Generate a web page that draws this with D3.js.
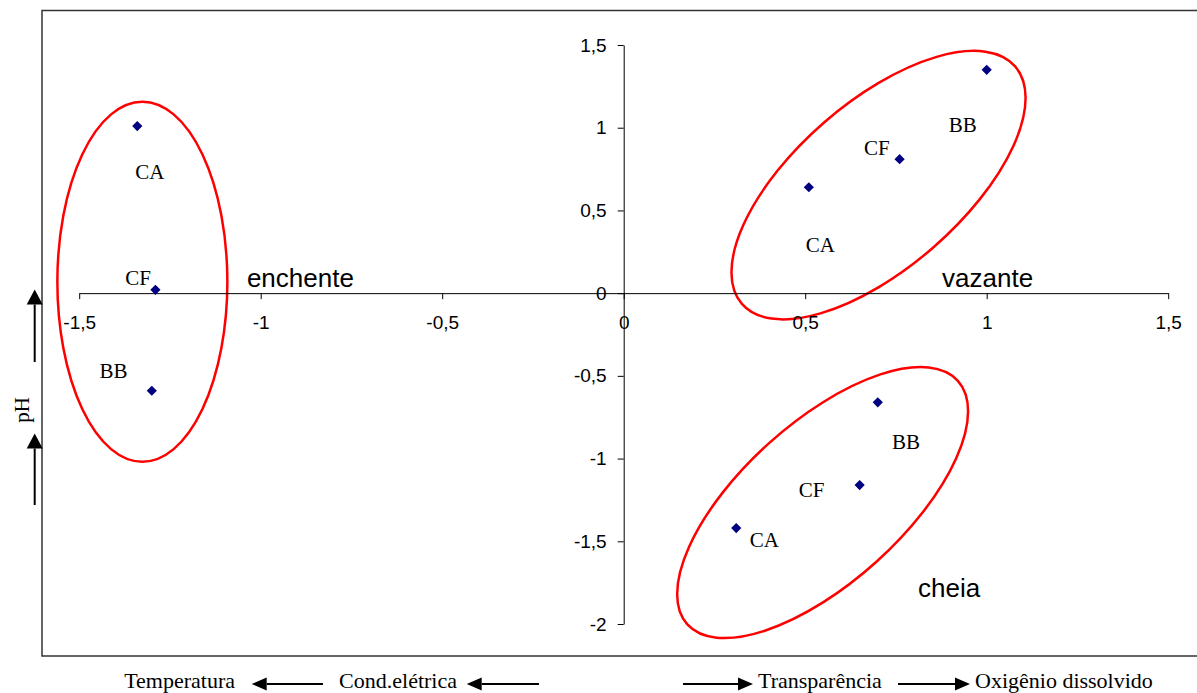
<!DOCTYPE html>
<html>
<head>
<meta charset="utf-8">
<script src="https://cdn.jsdelivr.net/npm/d3@7"></script>
<style>
  html, body { margin: 0; padding: 0; background: #fff; }
  svg { display: block; }
  .serif { font-family: "Liberation Serif", "Times New Roman", serif; }
  .sans { font-family: "Liberation Sans", Arial, sans-serif; }
</style>
</head>
<body>
<svg id="chart" width="1197" height="693"></svg>
<script>
// Sampling sites
const sites = ["CA", "CF", "BB"];

// Scores on the two axes, one pair of arrays per hydrological period
const enchenteX = [-1.34, -1.29, -1.30];
const enchenteY = [1.01, 0.02, -0.59];
const vazanteX = [0.51, 0.76, 1.00];
const vazanteY = [0.64, 0.81, 1.35];
const cheiaX = [0.31, 0.65, 0.70];
const cheiaY = [-1.42, -1.16, -0.66];

// Period names
const periods = ["enchente", "vazante", "cheia"];

// Axis ticks
const xTicks = [-1.5, -1, -0.5, 0, 0.5, 1, 1.5];
const yTicks = [-2, -1.5, -1, -0.5, 0, 0.5, 1, 1.5];

// Variables along the axes
const leftVars = ["Temperatura", "Cond.elétrica"];
const rightVars = ["Transparência", "Oxigênio dissolvido"];
const yVar = "pH";

const series = [
  { name: periods[0], xs: enchenteX, ys: enchenteY },
  { name: periods[1], xs: vazanteX, ys: vazanteY },
  { name: periods[2], xs: cheiaX, ys: cheiaY }
];

const svg = d3.select("#chart");
const x = d3.scaleLinear().domain([-1.5, 1.5]).range([79.2, 1168.2]);
const y = d3.scaleLinear().domain([-2, 1.5]).range([624, 45]);
const fmt = v => String(v).replace(".", ",");

// outer frame
svg.append("rect")
  .attr("x", 42).attr("y", 10.5)
  .attr("width", 1200).attr("height", 645.5)
  .attr("fill", "none").attr("stroke", "#333").attr("stroke-width", 1.5);

// group outlines: centre in data units, semi-axes in px, rotation in degrees
const groupShapes = {
  enchente: { cx: -1.326, cy: 0.069, rx: 85, ry: 180, rot: 0 },
  vazante:  { cx: 0.702, cy: 0.653, rx: 181, ry: 83, rot: -41 },
  cheia:    { cx: 0.548, cy: -1.266, rx: 182, ry: 80, rot: -42 }
};
svg.append("g").selectAll("ellipse")
  .data(series)
  .join("ellipse")
  .attr("transform", d => {
    const s = groupShapes[d.name];
    return `translate(${x(s.cx)},${y(s.cy)}) rotate(${s.rot})`;
  })
  .attr("rx", d => groupShapes[d.name].rx)
  .attr("ry", d => groupShapes[d.name].ry)
  .attr("fill", "none")
  .attr("stroke", "#ff0000")
  .attr("stroke-width", 2.5);

// axes through the origin
const xAxis = d3.axisBottom(x).tickValues(xTicks).tickFormat(fmt)
  .tickSize(6).tickSizeOuter(0).tickPadding(16);
const yAxis = d3.axisLeft(y).tickValues(yTicks).tickFormat(fmt)
  .tickSize(6).tickSizeOuter(0).tickPadding(11);

const gx = svg.append("g").attr("transform", `translate(0,${y(0)})`).call(xAxis);
const gy = svg.append("g").attr("transform", `translate(${x(0)},0)`).call(yAxis);
[gx, gy].forEach(g => {
  g.selectAll("path, line").attr("stroke", "#000").attr("stroke-width", 1);
  g.selectAll("text").attr("class", "sans").attr("font-size", 19).attr("fill", "#000");
});
gx.selectAll("text").attr("dy", "0.71em");

// period labels
const periodLabelPos = {
  enchente: { x: -1.038, y: 0.037 },
  vazante: { x: 0.877, y: 0.037 },
  cheia: { x: 0.811, y: -1.837 }
};
svg.append("g").selectAll("text")
  .data(series)
  .join("text")
  .attr("class", "sans")
  .attr("font-size", 26)
  .attr("x", d => x(periodLabelPos[d.name].x))
  .attr("y", d => y(periodLabelPos[d.name].y))
  .text(d => d.name);

// points
const points = series.flatMap(s => s.xs.map((v, i) => ({ period: s.name, site: sites[i], x: v, y: s.ys[i] })));

// label offsets from each point, px
const labelOffset = {
  "enchente-CA": [12.6, 46.3], "enchente-CF": [-17.3, -12.3], "enchente-BB": [-38.3, -20],
  "vazante-CA": [11.4, 57.3], "vazante-CF": [-22.7, -11], "vazante-BB": [-24, 55],
  "cheia-CA": [28, 11.7], "cheia-CF": [-48, 5.3], "cheia-BB": [28.3, 40]
};

svg.append("g").selectAll("path")
  .data(points)
  .join("path")
  .attr("d", d3.symbol(d3.symbolSquare, 52))
  .attr("transform", d => `translate(${x(d.x)},${y(d.y)}) rotate(45)`)
  .attr("fill", "#000080");

svg.append("g").selectAll("text")
  .data(points)
  .join("text")
  .attr("class", "serif")
  .attr("font-size", 21)
  .attr("text-anchor", "middle")
  .attr("dominant-baseline", "central")
  .attr("x", d => x(d.x) + labelOffset[d.period + "-" + d.site][0])
  .attr("y", d => y(d.y) + labelOffset[d.period + "-" + d.site][1])
  .text(d => d.site);

// arrow helper: shaft plus filled triangular head at (tx,ty) pointing along dir
function arrow(g, x1, y1, tx, ty, headLen, headHalf) {
  const dx = tx - x1, dy = ty - y1, len = Math.hypot(dx, dy);
  const ux = dx / len, uy = dy / len;
  const bx = tx - ux * headLen, by = ty - uy * headLen;
  g.append("line").attr("x1", x1).attr("y1", y1).attr("x2", bx).attr("y2", by)
    .attr("stroke", "#000").attr("stroke-width", 2);
  g.append("path")
    .attr("d", `M${tx},${ty}L${bx - uy * headHalf},${by + ux * headHalf}L${bx + uy * headHalf},${by - ux * headHalf}Z`)
    .attr("fill", "#000");
}

// vertical variable (pH)
const side = svg.append("g");
arrow(side, 34.7, 362, 34.7, 289.5, 15, 8);
arrow(side, 34.7, 505, 34.7, 433.5, 15, 8);
side.append("text")
  .attr("class", "serif")
  .attr("font-size", 21)
  .attr("text-anchor", "middle")
  .attr("dominant-baseline", "central")
  .attr("transform", "translate(22,410) rotate(-90)")
  .text(yVar);

// horizontal variables
const bottom = svg.append("g");
const baseY = 688, arrowY = 684, fs = 22;
bottom.append("text").attr("class", "serif").attr("font-size", fs)
  .attr("x", 235).attr("y", baseY).attr("text-anchor", "end").text(leftVars[0]);
arrow(bottom, 323, arrowY, 251.7, arrowY, 15, 6.5);
bottom.append("text").attr("class", "serif").attr("font-size", fs)
  .attr("x", 457).attr("y", baseY).attr("text-anchor", "end").text(leftVars[1]);
arrow(bottom, 539, arrowY, 466.7, arrowY, 15, 6.5);

arrow(bottom, 683, arrowY, 753, arrowY, 15, 6.5);
bottom.append("text").attr("class", "serif").attr("font-size", fs)
  .attr("x", 758).attr("y", baseY).text(rightVars[0]);
arrow(bottom, 898, arrowY, 970, arrowY, 15, 6.5);
bottom.append("text").attr("class", "serif").attr("font-size", fs)
  .attr("x", 975).attr("y", baseY).text(rightVars[1]);
</script>
</body>
</html>
